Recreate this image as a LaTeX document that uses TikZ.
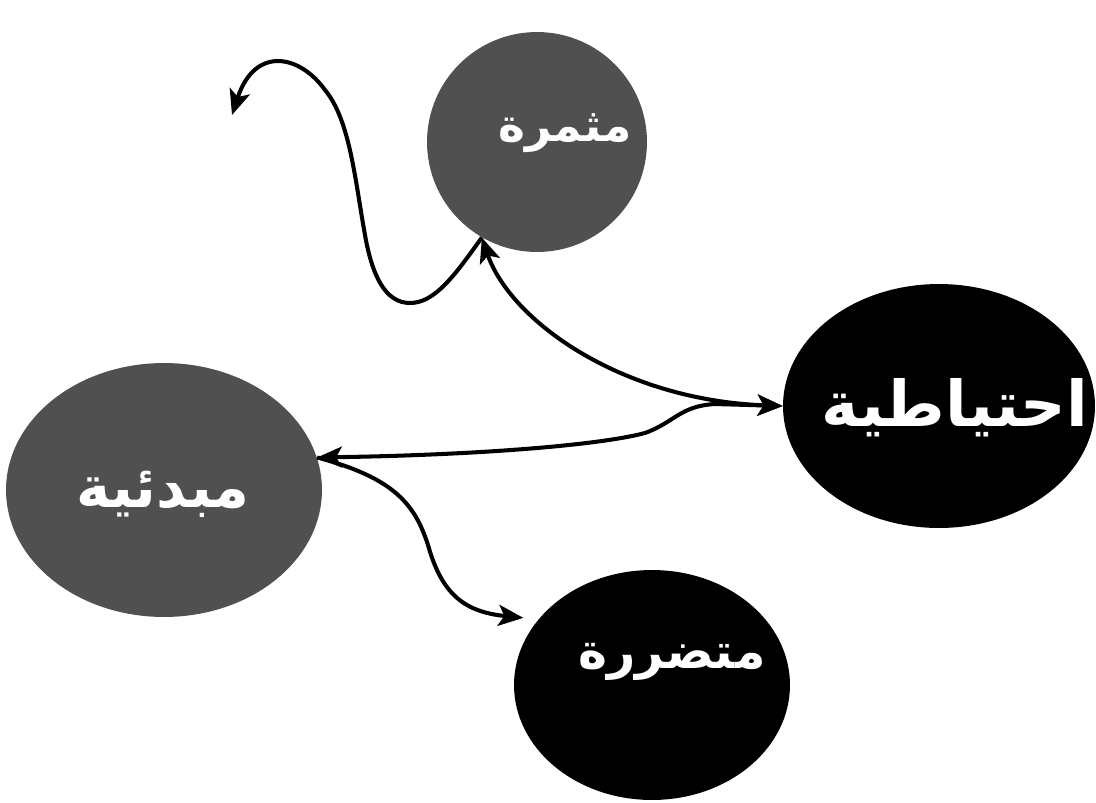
\documentclass[tikz,border=0pt]{standalone}
\usepackage{fontspec}
\usepackage{tikz}
\usetikzlibrary{arrows.meta,positioning,shapes.geometric}
\newfontfamily\arabicfont[Script=Arabic]{DejaVu Sans}
\TeXXeTstate=1
\definecolor{xgrey}{HTML}{505050}

\begin{document}
\begin{tikzpicture}[
    x=0.02cm, y=-0.02cm,
    >={Stealth[length=0.5cm, width=0.42cm, inset=0.12cm]},
    blob/.style={ellipse, draw=none, fill=#1, inner sep=0pt},
    word/.style={text=white, inner sep=0pt, font=\arabicfont\bfseries\fontsize{#1}{#1}\selectfont},
    link/.style={line width=2.3pt},
]
\useasboundingbox (0,0) rectangle (1096,802);

% Groups
\node[blob=xgrey, minimum width=4.4cm, minimum height=4.4cm] (fruit) at (537,142) {};
\node[blob=black, minimum width=6.24cm, minimum height=4.88cm] (reserve) at (939,406) {};
\node[blob=xgrey, minimum width=6.32cm, minimum height=5.08cm] (initial) at (164,490) {};
\node[blob=black, minimum width=5.52cm, minimum height=4.6cm] (damaged) at (652,685) {};

% Names
\node[word=26] (fruitw) at (565,133) {\beginR مثمرة\endR};
\node[word=36] (reservew) at (955,408) {\beginR احتياطية\endR};
\node[word=33] (initialw) at (163,494) {\beginR مبدئية\endR};
\node[word=28] (damagedw) at (672,662) {\beginR متضررة\endR};

% Arrows
\coordinate (tail) at (232,115);
\draw[link, <->] (fruit.240) .. controls (510,320) and (620,400) .. (reserve.180);
\draw[link, <->] (initial.12) .. controls (480,455) and (600,445) .. (645,433)
    .. controls (675,422) and (680,406) .. (715,404) -- (reserve.180);
\draw[link, ->, shorten >=0.3cm] (initial.12) .. controls (395,478) and (415,505) .. (428,545)
    .. controls (442,595) and (465,612) .. (damaged.150);
\draw[link, ->] (fruit.240) .. controls (455,275) and (435,303) .. (410,303)
    .. controls (385,303) and (372,275) .. (365,235)
    .. controls (355,180) and (350,120) .. (325,90)
    .. controls (300,55) and (255,45) .. (tail);

\end{tikzpicture}
\end{document}
